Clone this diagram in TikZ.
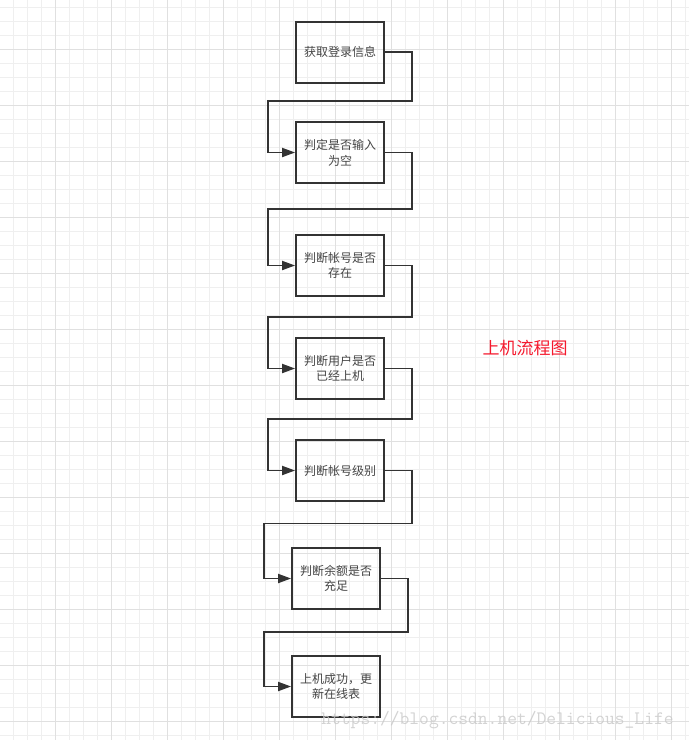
\documentclass[tikz,border=0pt]{standalone}
\usepackage{fontspec}
\usepackage{tikz}
\usetikzlibrary{arrows.meta}
\RequirePackage{xcolor}
\newfontfamily\cjk{Noto Sans CJK SC}
\definecolor{boxline}{HTML}{333333}
\definecolor{boxtext}{HTML}{444444}
\definecolor{gridminor}{HTML}{EFEFEF}
\definecolor{gridmajor}{HTML}{E0E0E0}
\definecolor{titlered}{RGB}{245,25,45}
\definecolor{markgray}{HTML}{C8C8C8}

\tikzset{
    stepbox/.style={draw=boxline, line width=1.8pt, minimum width=88pt, minimum height=61pt,
        inner sep=0pt, align=center, font=\cjk\fontsize{12}{15.7}\selectfont, text=boxtext},
    flow/.style={draw=boxline, line width=1.8pt, -{Triangle[length=13pt,width=9pt]}}
}

\begin{document}
\begin{tikzpicture}[x=1pt,y=-1pt]
    \useasboundingbox (0,0) rectangle (689,740);
    \fill[white] (0,0) rectangle (689,740);

    % grid
    \foreach \k in {1,...,49}
        \draw[gridminor, line width=1pt] (-0.67+14*\k,0) -- (-0.67+14*\k,740);
    \foreach \k in {0,...,52}
        \draw[gridminor, line width=1pt] (0,7+14*\k) -- (689,7+14*\k);
    \foreach \k in {0,...,11}
        \draw[gridmajor, line width=1pt] (55.33+56*\k,0) -- (55.33+56*\k,740);
    \foreach \k in {0,...,12}
        \draw[gridmajor, line width=1pt] (0,49+56*\k) -- (689,49+56*\k);

    % steps
    \draw (340,52.3) node[stepbox] (login) {获取登录信息};
    \draw (340,152.5) node[stepbox] (empty) {判定是否输入\\为空};
    \draw (340,265.5) node[stepbox] (exist) {判断帐号是否\\存在};
    \draw (340,368.5) node[stepbox] (online) {判断用户是否\\已经上机};
    \draw (340,470.5) node[stepbox] (level) {判断帐号级别};
    \draw (336,578.5) node[stepbox] (balance) {判断余额是否\\充足};
    \draw (336,686.5) node[stepbox] (success) {上机成功，更\\新在线表};

    % bends
    \coordinate (j1) at (268,101);
    \coordinate (j2) at (268,209);
    \coordinate (j3) at (268,317);
    \coordinate (j4) at (268,419);
    \coordinate (j5) at (264,523.5);
    \coordinate (j6) at (264,632.3);

    \draw[flow] (login.east) -- ++(27,0) |- (j1) |- (empty.west);
    \draw[flow] (empty.east) -- ++(27,0) |- (j2) |- (exist.west);
    \draw[flow] (exist.east) -- ++(27,0) |- (j3) |- (online.west);
    \draw[flow] (online.east) -- ++(27,0) |- (j4) |- (level.west);
    \draw[flow] (level.east) -- ++(27,0) |- (j5) |- (balance.west);
    \draw[flow] (balance.east) -- ++(27,0) |- (j6) |- (success.west);

    \draw (525,348) node[font=\cjk\fontsize{17}{20}\selectfont, text=titlered] (title) {上机流程图};

    % watermark
    \draw (497.5,720) node[font=\ttfamily\fontsize{19}{22}\selectfont, text=markgray, opacity=0.8, inner sep=0pt] (mark) {https://blog.csdn.net/Delicious\_Life};
\end{tikzpicture}
\end{document}
